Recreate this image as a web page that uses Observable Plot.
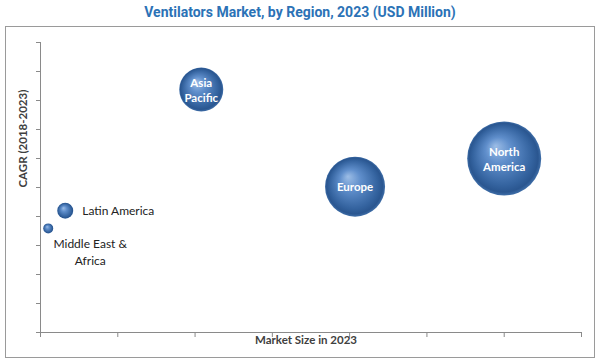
<!DOCTYPE html>
<html>
<head>
<meta charset="utf-8">
<script src="https://cdn.jsdelivr.net/npm/d3@7"></script>
<script src="https://cdn.jsdelivr.net/npm/@observablehq/plot@0.6"></script>
<style>
  html, body { margin: 0; padding: 0; background: #fff; }
  #wrap { position: relative; width: 600px; height: 362px; overflow: hidden; }
  #title { position: absolute; left: 0; top: 4px; width: 600px; text-align: center;
    font-family: "Liberation Sans Narrow", "Arial Narrow", Roboto, sans-serif; font-weight: 700;
    font-size: 14px; color: #2b72b6; }
  #frame { position: absolute; left: 5px; top: 26px; width: 588px; height: 330px; border: 1px solid #9a9a9a; }
  #chart { position: absolute; left: 0; top: 26px; }
</style>
</head>
<body>
<div id="wrap">
  <div id="title">Ventilators Market, by Region, 2023 (USD Million)</div>
  <div id="frame"></div>
  <div id="chart"></div>
</div>
<script>
const regions = ["Asia Pacific", "North America", "Europe", "Latin America", "Middle East & Africa"];
const labels = ["Asia\nPacific", "North\nAmerica", "Europe", "Latin America", "Middle East &\nAfrica"];
const marketSize = [2.08, 6.0, 4.07, 0.32, 0.10];
const cagr = [8.38, 6.0, 5.03, 4.2, 3.59];
const bubbleSize = [484, 1369, 900, 64, 25];
const xTicks = [0, 1, 2, 3, 4, 5, 6, 7];
const yTicks = [0, 1, 2, 3, 4, 5, 6, 7, 8, 9, 10];
const xTitle = "Market Size in 2023";
const yTitle = "CAGR (2018-2023)";

const data = regions.map((r, i) => ({region: r, label: labels[i], x: marketSize[i], y: cagr[i], size: bubbleSize[i]}));
const inner = data.filter(d => d.size > 200);
const la = data.filter(d => d.region === "Latin America");
const mea = data.filter(d => d.region === "Middle East & Africa");

const axisColor = "#8a8a8a";
const font = "Lato, 'Open Sans', sans-serif";

const svg = Plot.plot({
  width: 600,
  height: 336,
  marginLeft: 40,
  marginRight: 19,
  marginTop: 16,
  marginBottom: 30,
  style: {fontFamily: font, background: "transparent", overflow: "visible"},
  x: {type: "linear", domain: [0, 7], axis: null},
  y: {type: "linear", domain: [0, 10], axis: null},
  r: {type: "sqrt", domain: [0, 1369], range: [0, 37]},
  marks: [
    Plot.axisY({ticks: yTicks, tickSize: 4, tickFormat: () => "", stroke: axisColor, label: null}),
    Plot.axisX({ticks: xTicks, tickSize: 5, tickFormat: () => "", stroke: axisColor, label: null}),
    Plot.ruleX([0], {stroke: axisColor, strokeWidth: 1}),
    Plot.ruleY([0], {stroke: axisColor, strokeWidth: 1}),
    Plot.dot(data, {x: "x", y: "y", r: "size", fill: "url(#sphere)", stroke: "none"}),
    Plot.text(inner, {x: "x", y: "y", text: "label", fill: "white", fontWeight: 700, fontSize: 11.5, lineHeight: 1.3}),
    Plot.text(la, {x: "x", y: "y", text: "label", fill: "#222", fontSize: 12, textAnchor: "start", dx: 17}),
    Plot.text(mea, {x: "x", y: "y", text: "label", fill: "#222", fontSize: 12, lineHeight: 1.35, dx: 42, dy: 23}),
    Plot.text([yTitle], {frameAnchor: "left", text: d => d, rotate: -90, dx: -17, fill: "#404040", fontWeight: 700, fontSize: 11.5}),
    Plot.text([xTitle], {frameAnchor: "bottom", text: d => d, dy: 11, dx: -5, fill: "#404040", fontWeight: 700, fontSize: 11.5})
  ]
});

const defs = d3.select(svg).insert("defs", ":first-child");
const g = defs.append("radialGradient").attr("id", "sphere")
  .attr("cx", "0.5").attr("cy", "0.5").attr("r", "0.5")
  .attr("fx", "0.38").attr("fy", "0.33");
g.append("stop").attr("offset", "0").attr("stop-color", "#9cbde6");
g.append("stop").attr("offset", "0.35").attr("stop-color", "#5f8ecb");
g.append("stop").attr("offset", "0.8").attr("stop-color", "#34639f");
g.append("stop").attr("offset", "0.93").attr("stop-color", "#2a5690");
g.append("stop").attr("offset", "1").attr("stop-color", "#3f6ea8");

document.getElementById("chart").appendChild(svg);
</script>
</body>
</html>
